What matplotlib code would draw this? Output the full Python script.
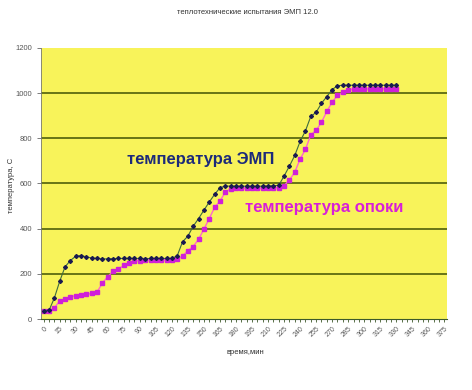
import matplotlib.pyplot as plt
import numpy as np

plt.rcParams['font.family'] = ['Liberation Sans', 'DejaVu Sans']

# time, minutes (one reading every 5 min)
minutes = list(range(0, 335, 5))

# температура ЭМП, C
emp_temp = [36, 38, 93, 167, 231, 259, 278, 281, 275, 270,
            268, 266, 266, 267, 268, 268, 268, 268, 268, 267,
            268, 268, 268, 268, 268, 280, 342, 367, 411, 445,
            482, 518, 552, 581, 589, 588, 588, 588, 588, 588,
            588, 588, 589, 590, 592, 633, 677, 724, 786, 833,
            897, 915, 955, 985, 1016, 1033, 1035, 1035, 1035, 1035,
            1035, 1035, 1035, 1035, 1035, 1035, 1035]

# температура опоки, C
flask_temp = [35, 36, 49, 80, 87, 98, 104, 107, 109, 113,
              119, 160, 187, 212, 222, 237, 248, 256, 259, 261,
              262, 262, 262, 262, 263, 265, 280, 302, 321, 353,
              398, 445, 494, 522, 562, 576, 578, 579, 580, 580,
              580, 580, 580, 581, 582, 590, 615, 650, 708, 751,
              815, 835, 871, 919, 960, 990, 1005, 1014, 1018, 1018,
              1018, 1019, 1019, 1019, 1019, 1019, 1019]

x_ticks = list(range(0, 380, 15))
y_ticks = [0, 200, 400, 600, 800, 1000, 1200]

fig = plt.figure(figsize=(4.72, 3.9), dpi=100)
ax = fig.add_axes([41/472, 1 - 319/390, 406/472, 271/390])
ax.set_facecolor('#F8F35A')

for y in y_ticks[1:-1]:
    ax.axhline(y, color='#5C6A10', linewidth=1.3, zorder=1)

ax.plot(minutes, flask_temp, color='#FF66CC', linewidth=1.0,
        marker='s', markersize=3.4, markerfacecolor='#D020D8',
        markeredgecolor='#D020D8', zorder=3)
ax.plot(minutes, emp_temp, color='#3E6B3E', linewidth=0.8,
        marker='D', markersize=2.0, markerfacecolor='#1A1A50',
        markeredgecolor='#1A1A50', zorder=4)

ax.text(78, 705, 'температура ЭМП', color='#1C2A7A', fontsize=12,
        fontweight='bold', va='center', ha='left', zorder=5)
ax.text(188, 495, 'температура опоки', color='#D81FD8', fontsize=12,
        fontweight='bold', va='center', ha='left', zorder=5)

ax.set_xlim(-2.5, 377.5)
ax.set_ylim(0, 1200)
ax.set_yticks(y_ticks)
ax.set_xticks(x_ticks)
ax.set_xticks(list(range(0, 380, 5)), minor=True)
ax.set_xticklabels([str(v) for v in x_ticks], rotation=45, ha='right',
                   rotation_mode='anchor', fontsize=5, color='#555555')
ax.tick_params(axis='y', labelsize=5.5, labelcolor='#555555', length=3,
               width=0.6, color='#666666')
ax.tick_params(axis='x', which='both', length=2.5, width=0.6,
               color='#3E5A2A', pad=2)

for side in ['top', 'right']:
    ax.spines[side].set_visible(False)
ax.spines['left'].set_color('#777777')
ax.spines['left'].set_linewidth(0.6)
ax.spines['bottom'].set_color('#3E5A2A')
ax.spines['bottom'].set_linewidth(0.8)

fig.text(0.525, 1 - 12/390, 'теплотехнические испытания ЭМП 12.0',
         fontsize=5.5, ha='center', va='center', color='#333333')
fig.text(0.52, 1 - 353/390, 'время,мин', fontsize=5.5, ha='center',
         va='center', color='#333333')
fig.text(12/472, 1 - 185/390, 'температура, C', fontsize=5.5,
         rotation=90, ha='center', va='center', color='#333333')

fig.savefig('out.png', dpi=100)
